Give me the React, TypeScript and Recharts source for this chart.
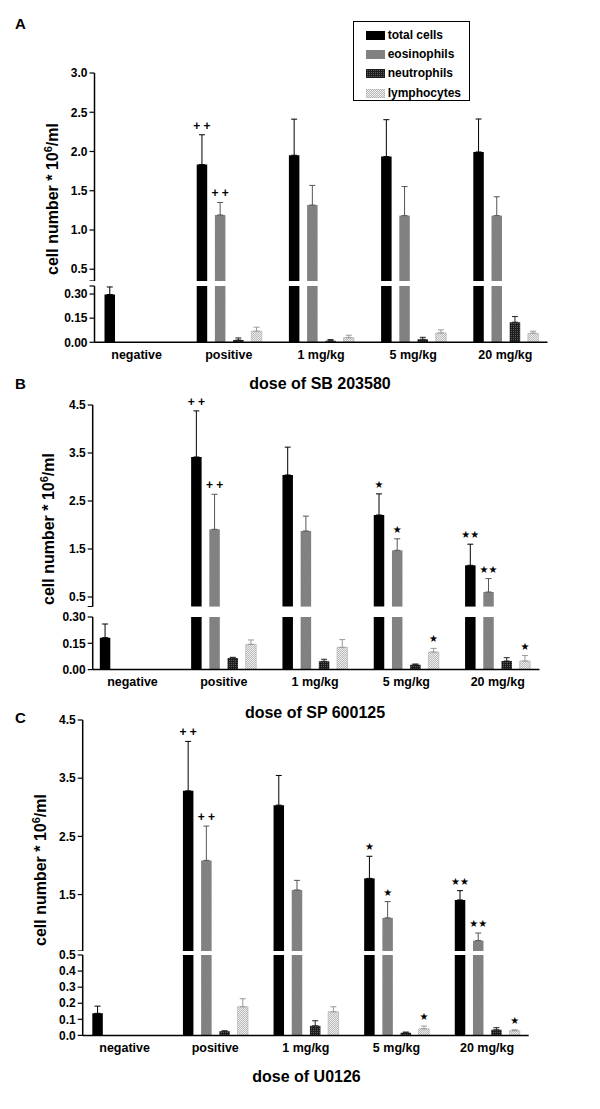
import React from "react"
import { BarChart, Bar, XAxis, YAxis, ErrorBar, LabelList } from "recharts"

const FONT = '"Liberation Sans", Arial, Helvetica, sans-serif'

const categories = ["negative", "positive", "1 mg/kg", "5 mg/kg", "20 mg/kg"]
const seriesNames = ["total cells", "eosinophils", "neutrophils", "lymphocytes"]

// panel A – dose of SB 203580
const totalA = [0.297, 1.833, 1.952, 1.935, 1.994]
const totalErrA = [0.047, 0.38, 0.46, 0.47, 0.42]
const eosA = [null, 1.191, 1.318, 1.183, 1.183]
const eosErrA = [null, 0.16, 0.25, 0.37, 0.24]
const neutA = [null, 0.014, 0.01, 0.019, 0.125]
const neutErrA = [null, 0.013, 0.007, 0.012, 0.035]
const lymphA = [null, 0.069, 0.029, 0.058, 0.056]
const lymphErrA = [null, 0.025, 0.015, 0.019, 0.013]
const totalAnnA = ["", "+ +", "", "", ""]
const eosAnnA = ["", "+ +", "", "", ""]
const lymphAnnA = ["", "", "", "", ""]

// panel B – dose of SP 600125
const totalB = [0.182, 3.417, 3.042, 2.208, 1.16]
const totalErrB = [0.078, 0.96, 0.58, 0.44, 0.44]
const eosB = [null, 1.91, 1.875, 1.472, 0.604]
const eosErrB = [null, 0.73, 0.31, 0.24, 0.28]
const neutB = [null, 0.066, 0.047, 0.028, 0.049]
const neutErrB = [null, 0.004, 0.012, 0.004, 0.019]
const lymphB = [null, 0.144, 0.127, 0.1, 0.049]
const lymphErrB = [null, 0.025, 0.044, 0.021, 0.031]
const totalAnnB = ["", "+ +", "", "★", "★★"]
const eosAnnB = ["", "+ +", "", "★", "★★"]
const lymphAnnB = ["", "", "", "★", "★"]

// panel C – dose of U0126
const totalC = [0.137, 3.282, 3.037, 1.778, 1.407]
const totalErrC = [0.045, 0.85, 0.51, 0.38, 0.16]
const eosC = [null, 2.087, 1.579, 1.099, 0.709]
const eosErrC = [null, 0.59, 0.165, 0.28, 0.13]
const neutC = [null, 0.025, 0.06, 0.017, 0.035]
const neutErrC = [null, 0.004, 0.031, 0.004, 0.013]
const lymphC = [null, 0.178, 0.147, 0.041, 0.029]
const lymphErrC = [null, 0.05, 0.031, 0.017, 0.006]
const totalAnnC = ["", "+ +", "", "★", "★★"]
const eosAnnC = ["", "+ +", "", "★", "★★"]
const lymphAnnC = ["", "", "", "★", "★"]

// y ticks (upper / lower part of each broken axis); caps get no label
const ticksUpperA = [0.35, 0.5, 1.0, 1.5, 2.0, 2.5, 3.0]
const ticksLowerA = [0, 0.15, 0.3, 0.35]
const ticksUpperB = [0.3, 0.5, 1.5, 2.5, 3.5, 4.5]
const ticksLowerB = [0, 0.15, 0.3]
const ticksUpperC = [0.53, 1.5, 2.5, 3.5, 4.5]
const ticksLowerC = [0, 0.1, 0.2, 0.3, 0.4, 0.5]

const keys = ["total", "eos", "neut", "lymph"]
const fills = ["#000", "url(#pEos)", "url(#pNeut)", "url(#pLymph)"]
const errColors = ["#000", "#555", "#222", "#999"]

type Num = number | null

function buildRows(vals: Num[][], errs: Num[][], anns: string[][], min: number, max: number, upper: boolean) {
  return categories.map((name, i) => {
    const row: any = { name }
    keys.forEach((k, s) => {
      const v = vals[s][i]
      const e = errs[s][i]
      const inPart = v != null && (upper ? v > min : true)
      const showErr = v != null && (upper ? v > min : v <= max)
      row[k] = inPart ? v : null
      row[k + "Err"] = showErr && e ? [0, e] : null
      const a = anns[s] ? anns[s][i] : ""
      row[k + "Ann"] = showErr && a ? a + "@" + e : null
    })
    return row
  })
}

const panels = [
  {
    letter: "A", title: "dose of SB 203580", letterY: 23.5, titleX: 320, titleY: 384, labelX: 52, labelY: 199,
    axisX: 94.5, axisEnd: 547.5, padL: -4, padR: -4,
    upper: { min: 0.35, max: 3.0, top: 72.7, bottom: 280.7, ticks: ticksUpperA, caps: [0.35], dec: 1 },
    lower: { min: 0, max: 0.35, top: 286, bottom: 342.3, ticks: ticksLowerA, caps: [0.35], dec: 2 },
    vals: [totalA, eosA, neutA, lymphA], errs: [totalErrA, eosErrA, neutErrA, lymphErrA],
    anns: [totalAnnA, eosAnnA, [], lymphAnnA],
  },
  {
    letter: "B", title: "dose of SP 600125", letterY: 384, titleX: 315, titleY: 713, labelX: 48, labelY: 529,
    axisX: 92.7, axisEnd: 539.5, padL: -5.9, padR: -3.9,
    upper: { min: 0.3, max: 4.5, top: 405, bottom: 606.6, ticks: ticksUpperB, caps: [0.3], dec: 1 },
    lower: { min: 0, max: 0.3, top: 616.7, bottom: 669.3, ticks: ticksLowerB, caps: [], dec: 2 },
    vals: [totalB, eosB, neutB, lymphB], errs: [totalErrB, eosErrB, neutErrB, lymphErrB],
    anns: [totalAnnB, eosAnnB, [], lymphAnnB],
  },
  {
    letter: "C", title: "dose of U0126", letterY: 717.5, titleX: 306.5, titleY: 1076.7, labelX: 40, labelY: 870,
    axisX: 82.7, axisEnd: 528.7, padL: -3.4, padR: -3.7,
    upper: { min: 0.53, max: 4.5, top: 720, bottom: 951, ticks: ticksUpperC, caps: [0.53], dec: 1 },
    lower: { min: 0, max: 0.5, top: 954.6, bottom: 1035, ticks: ticksLowerC, caps: [], dec: 1 },
    vals: [totalC, eosC, neutC, lymphC], errs: [totalErrC, eosErrC, neutErrC, lymphErrC],
    anns: [totalAnnC, eosAnnC, [], lymphAnnC],
  },
]

const annContent = (ppu: number) => (props: any) => {
  const { x, y, width, value } = props
  if (!value) return null
  const [text, err] = String(value).split("@")
  const top = Number(y) - Number(err) * ppu
  const star = text.includes("★")
  return (
    <text x={Number(x) + Number(width) / 2} y={top - (star ? 6 : 5)} textAnchor="middle"
      fontSize={star ? 10 : 12} fontWeight="bold" fill="#000" stroke="none"
      fontFamily={star ? "DejaVu Sans" : FONT}>
      {text}
    </text>
  )
}

function Section({ p, part }: { p: any; part: "upper" | "lower" }) {
  const sec = p[part]
  const upper = part === "upper"
  const mTop = upper ? 24 : 10
  const xH = upper ? 0 : 30
  const plotH = sec.bottom - sec.top
  const ppu = plotH / (sec.max - sec.min)
  const rows = buildRows(p.vals, p.errs, p.anns, sec.min, sec.max, upper)
  return (
    <div style={{ position: "absolute", left: 0, top: sec.top - mTop }}>
      <BarChart width={600} height={mTop + plotH + xH} data={rows}
        margin={{ top: mTop, right: 600 - p.axisEnd, bottom: 0, left: 0 }}
        barSize={10.5} barGap={7.7}>
        <XAxis dataKey="name" hide={upper} height={xH} padding={{ left: p.padL, right: p.padR }}
          interval={0} tickLine={false} axisLine={{ stroke: "#000", strokeWidth: 1.5 }}
          tick={{ fontSize: 12.5, fontWeight: 700, fill: "#000" }} />
        <YAxis type="number" domain={[sec.min, sec.max]} allowDataOverflow={!upper}
          ticks={sec.ticks} interval={0} width={p.axisX} tickSize={5} tickMargin={2}
          axisLine={{ stroke: "#000", strokeWidth: 1.5 }} tickLine={{ stroke: "#000", strokeWidth: 1.2 }}
          tick={{ fontSize: 12, fontWeight: 700, fill: "#000" }}
          tickFormatter={(v: number) => (sec.caps.includes(v) ? "" : v.toFixed(sec.dec))} />
        {keys.map((k, s) => (
          <Bar key={k} dataKey={k} name={seriesNames[s]} fill={fills[s]}
            stroke={k === "lymph" ? "#aaa" : "none"} strokeWidth={0.6} isAnimationActive={false}>
            <ErrorBar dataKey={k + "Err"} width={3} stroke={errColors[s]} strokeWidth={1} isAnimationActive={false} />
            <LabelList dataKey={k + "Ann"} content={annContent(ppu)} />
          </Bar>
        ))}
      </BarChart>
    </div>
  )
}

function Legend() {
  return (
    <div style={{ position: "absolute", left: 352.7, top: 21, width: 115, height: 78, border: "1.5px solid #000", background: "#fff" }}>
      {seriesNames.map((n, i) => (
        <div key={n} style={{ position: "absolute", left: 12, top: 13.3 + i * 18.9 - 9 + (i === 3 ? 1 : 0), height: 18, display: "flex", alignItems: "center" }}>
          <svg width={19} height={9} style={{ marginRight: 3 }}>
            <rect x={0} y={0} width={19} height={9} fill={fills[i]} stroke={i === 3 ? "#aaa" : "none"} strokeWidth={0.6} />
          </svg>
          <span style={{ fontSize: 12, fontWeight: 700, color: "#000", whiteSpace: "nowrap" }}>{n}</span>
        </div>
      ))}
    </div>
  )
}

export default function App() {
  return (
    <div style={{ position: "absolute", left: 0, top: 0, width: 600, height: 1109, background: "#fff", fontFamily: FONT, overflow: "hidden" }}>
      <svg width={0} height={0} style={{ position: "absolute" }}>
        <defs>
          <pattern id="pEos" width={3} height={3} patternUnits="userSpaceOnUse">
            <rect width={3} height={3} fill="#858585" />
            <path d="M0,3 L3,0" stroke="#777" strokeWidth={0.8} />
          </pattern>
          <pattern id="pNeut" width={2} height={2} patternUnits="userSpaceOnUse">
            <rect width={2} height={2} fill="#5a5a5a" />
            <path d="M0,0.5 H2 M0.5,0 V2" stroke="#1e1e1e" strokeWidth={1} />
          </pattern>
          <pattern id="pLymph" width={2} height={2} patternUnits="userSpaceOnUse">
            <rect width={2} height={2} fill="#f0f0f0" />
            <rect width={1} height={1} fill="#b8b8b8" />
            <rect x={1} y={1} width={1} height={1} fill="#b8b8b8" />
          </pattern>
        </defs>
      </svg>
      {panels.map((p) => (
        <React.Fragment key={p.letter}>
          <Section p={p} part="upper" />
          <Section p={p} part="lower" />
          <div style={{ position: "absolute", left: 15, top: p.letterY - 9, fontSize: 15, fontWeight: 700, lineHeight: "18px" }}>{p.letter}</div>
          <div style={{ position: "absolute", left: p.titleX, top: p.titleY, transform: "translate(-50%, -50%)", fontSize: 16, fontWeight: 700, whiteSpace: "nowrap" }}>{p.title}</div>
          <div style={{ position: "absolute", left: p.labelX, top: p.labelY, transform: "translate(-50%, -50%) rotate(-90deg)", fontSize: 16, fontWeight: 700, whiteSpace: "nowrap" }}>
            cell number * 10<sup style={{ fontSize: 11 }}>6</sup>/ml
          </div>
        </React.Fragment>
      ))}
      <Legend />
    </div>
  )
}
